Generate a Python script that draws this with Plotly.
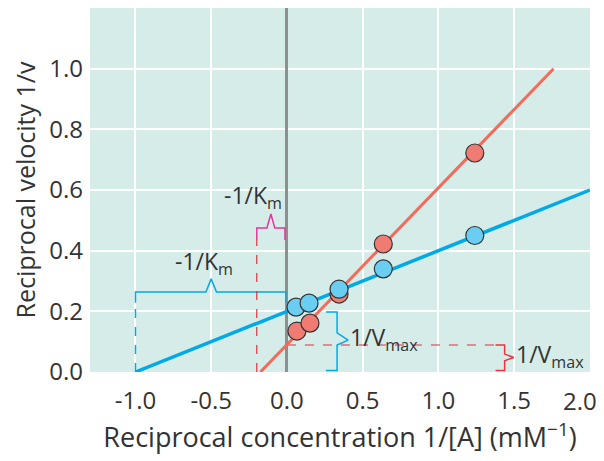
import plotly.graph_objects as go

# ---- data ----
red_x = [0.066, 0.152, 0.344, 0.636, 1.24]
red_y = [0.135, 0.161, 0.257, 0.422, 0.722]
blue_x = [0.06, 0.146, 0.344, 0.636, 1.24]
blue_y = [0.214, 0.227, 0.273, 0.34, 0.45]
red_line_x = [-0.175, 1.76]
red_line_y = [0.0, 1.0]
blue_line_x = [-1.0, 2.0]
blue_line_y = [0.0, 0.6]
x_ticks = [-1.0, -0.5, 0.0, 0.5, 1.0, 1.5, 2.0]
x_labels = ["-1.0", "-0.5", "0.0", "0.5", "1.0", "1.5", "2.0"]
y_ticks = [0.0, 0.2, 0.4, 0.6, 0.8, 1.0]
y_labels = ["0.0", "0.2", "0.4", "0.6", "0.8", "1.0"]

RED_LINE = "#f26b5b"
BLUE_LINE = "#00a9e8"
RED_FILL = "#f07b73"
BLUE_FILL = "#6acdf2"
MAGENTA = "#e5369b"
TXT = "#333333"
BG = "#d6ece8"
FONT = "Open Sans"

fig = go.Figure()

def seg(xs, ys, color, width=1.5, dash="solid"):
    fig.add_trace(go.Scatter(x=xs, y=ys, mode="lines", hoverinfo="skip",
                             line=dict(color=color, width=width, dash=dash),
                             showlegend=False))

# brackets / guide lines
# blue -1/Km bracket
seg([-1.0, -1.0, -0.535, -0.5, -0.465, -0.007, -0.007],
    [0.228, 0.264, 0.264, 0.307, 0.264, 0.264, 0.228], BLUE_LINE)
seg([-1.0, -1.0], [0.0, 0.228], BLUE_LINE, dash="dash")
# magenta -1/Km bracket
seg([-0.199, -0.199, -0.132, -0.106, -0.08, -0.013, -0.013],
    [0.435, 0.475, 0.475, 0.521, 0.475, 0.475, 0.435], MAGENTA)
seg([-0.199, -0.199], [0.0, 0.435], "#d8333f", width=1.2, dash="dash")
# blue 1/Vmax bracket
seg([0.258, 0.331, 0.331, 0.404, 0.331, 0.331, 0.258],
    [0.198, 0.198, 0.129, 0.105, 0.089, 0.005, 0.005], BLUE_LINE)
# red dashed 1/Vmax line and bracket
seg([0.0, 1.377], [0.089, 0.089], "#d8333f", width=1.2, dash="dash")
seg([1.377, 1.437, 1.437, 1.497, 1.437, 1.437, 1.377],
    [0.089, 0.089, 0.059, 0.048, 0.037, 0.005, 0.005], "#e8353f")

# main lines
fig.add_trace(go.Scatter(x=red_line_x, y=red_line_y, mode="lines",
                         line=dict(color=RED_LINE, width=3), showlegend=False))
fig.add_trace(go.Scatter(x=blue_line_x, y=blue_line_y, mode="lines",
                         line=dict(color=BLUE_LINE, width=3.5), showlegend=False))
# points
fig.add_trace(go.Scatter(x=red_x, y=red_y, mode="markers",
                         marker=dict(size=18, color=RED_FILL,
                                     line=dict(color="#333333", width=1.2)),
                         showlegend=False))
fig.add_trace(go.Scatter(x=blue_x, y=blue_y, mode="markers",
                         marker=dict(size=18, color=BLUE_FILL,
                                     line=dict(color="#333333", width=1.2)),
                         showlegend=False))

ann_font = dict(family=FONT, size=23, color=TXT)
annotations = [
    dict(x=-0.55, y=0.36, text="-1/K<sub>m</sub>"),
    dict(x=-0.225, y=0.578, text="-1/K<sub>m</sub>"),
    dict(x=0.405, y=0.11, text="1/V<sub>max</sub>", xanchor="left"),
    dict(x=1.5, y=0.055, text="1/V<sub>max</sub>", xanchor="left"),
]
for a in annotations:
    a.setdefault("xanchor", "center")
    fig.add_annotation(showarrow=False, font=ann_font, xref="x", yref="y", **a)

# last x tick label, nudged left so it stays inside the page (as in the original)
fig.add_annotation(x=x_ticks[-1], y=0, xref="x", yref="paper", text=x_labels[-1],
                   showarrow=False, xanchor="right", yanchor="middle",
                   xshift=9, yshift=-28, font=dict(family=FONT, size=24, color=TXT))
tick_text = x_labels[:-1] + [""]

# page body has an 8px margin; figure sized so plot area lands at x 90-590, y 8-372
fig.update_layout(
    width=596, height=453,
    margin=dict(l=82, r=14, t=0, b=89, autoexpand=False),
    paper_bgcolor="white", plot_bgcolor=BG,
    font=dict(family=FONT, color=TXT, size=24),
    xaxis=dict(range=[-1.3, 2.0005], tickvals=x_ticks, ticktext=tick_text,
               showgrid=True, gridcolor="white", gridwidth=1.5,
               zeroline=True, zerolinecolor="#8f8f8f", zerolinewidth=2.5,
               ticks="", ticklabelstandoff=12, automargin=False,
               title=dict(text="Reciprocal concentration 1/[A] (mM<sup>−1</sup>)",
                          font=dict(size=27), standoff=12)),
    yaxis=dict(range=[0, 1.2], tickvals=y_ticks, ticktext=y_labels,
               showgrid=True, gridcolor="white", gridwidth=1.5,
               zeroline=False, ticks="", ticklabelstandoff=6, automargin=False,
               title=dict(text="Reciprocal velocity 1/v",
                          font=dict(size=25), standoff=6)),
)

fig.write_html("out.html")
